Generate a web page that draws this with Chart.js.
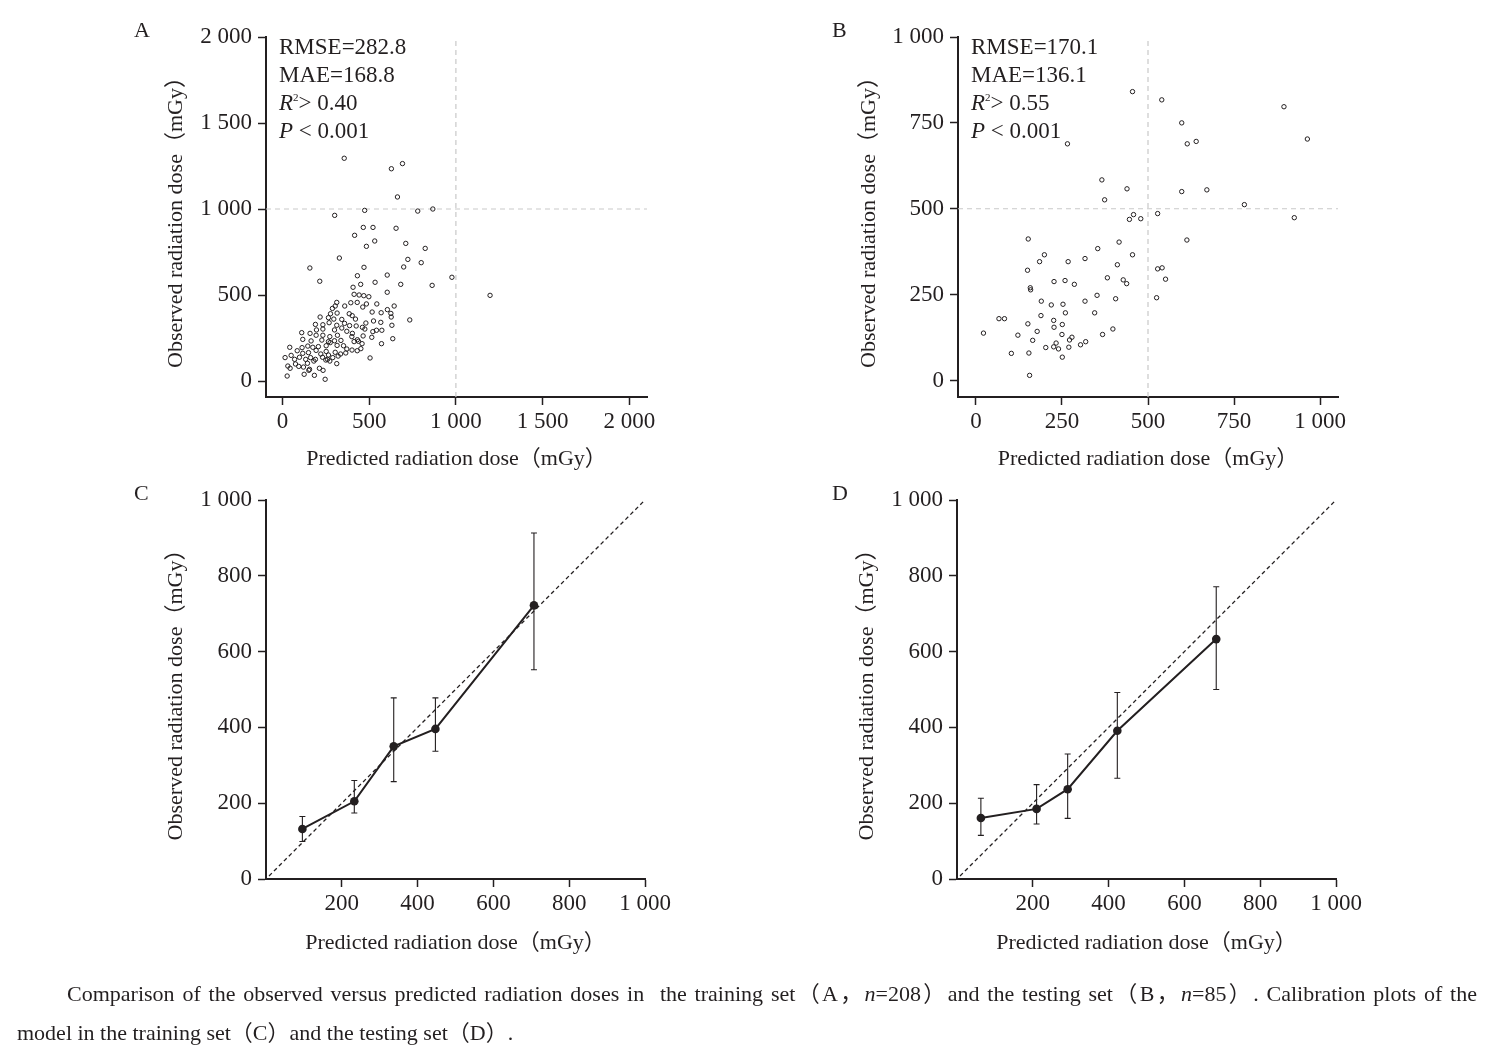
<!DOCTYPE html>
<html>
<head>
<meta charset="utf-8">
<script src="https://cdn.jsdelivr.net/npm/chart.js@4.4.0/dist/chart.umd.min.js"></script>
<style>
  html, body { margin: 0; padding: 0; background: #ffffff; }
  body { width: 1493px; height: 1056px; position: relative; overflow: hidden; }
  canvas { position: absolute; left: 0; top: 0; }
  .txt { position: absolute; font-family: "Liberation Serif", "Times New Roman", "Noto Sans CJK SC", serif; color: #231f20; white-space: nowrap; }
  .stats { font-size: 23px; line-height: 28px; }
  .stats sup { font-size: 11px; vertical-align: 0; position: relative; top: -9px; line-height: 0; }
  .letter { font-size: 22px; line-height: 24px; }
  .cap { font-size: 22px; line-height: 24px; }
</style>
</head>
<body>
<canvas id="cA" width="1493" height="1056"></canvas>
<canvas id="cB" width="1493" height="1056"></canvas>
<canvas id="cC" width="1493" height="1056"></canvas>
<canvas id="cD" width="1493" height="1056"></canvas>

<div class="txt letter" style="left:134px;top:18px;">A</div>
<div class="txt letter" style="left:832px;top:18px;">B</div>
<div class="txt letter" style="left:134px;top:481px;">C</div>
<div class="txt letter" style="left:832px;top:481px;">D</div>

<div class="txt stats" style="left:279px;top:33px;">RMSE=282.8<br>MAE=168.8<br><i>R</i><sup>2</sup>&gt; 0.40<br><i>P</i> &lt; 0.001</div>
<div class="txt stats" style="left:971px;top:33px;">RMSE=170.1<br>MAE=136.1<br><i>R</i><sup>2</sup>&gt; 0.55<br><i>P</i> &lt; 0.001</div>

<div class="txt cap" style="left:67px;top:982px;width:1410px;white-space:normal;text-align:justify;text-align-last:justify;">Comparison of the observed versus predicted radiation doses in&nbsp; the training set（A，<i>n</i>=208）and the testing set（B，<i>n</i>=85）. Calibration plots of the</div>
<div class="txt cap" style="left:17px;top:1021px;">model in the training set（C）and the testing set（D）.</div>

<script>
// ---------------- DATA ----------------
// Panel A: training set (predicted, observed) in mGy
const trainPred = [356,628,692,663,474,780,867,301,466,522,655,416,532,484,711,823,328,723,800,158,470,699,977,863,1197,
  432,604,215,407,451,534,682,604,413,442,469,498,394,431,484,544,644,313,304,288,359,463,605,277,217,265,315,385,402,517,569,625,
  734,296,342,421,481,525,567,627,190,233,269,313,358,387,425,461,196,233,300,342,371,403,475,521,542,573,631,111,159,194,233,273,
  317,400,432,465,515,636,117,165,227,265,300,337,438,413,459,571,42,85,113,146,175,207,252,275,315,352,371,401,431,452,117,150,
  194,221,252,265,304,335,365,15,50,70,98,134,162,190,231,260,290,321,505,31,44,75,94,121,144,156,181,213,234,250,273,313,27,125,
  184,246,152];
const trainObs = [1295,1234,1264,1070,992,988,1000,963,893,893,888,847,814,783,800,771,715,707,688,657,661,663,603,556,498,
  612,616,580,545,562,574,562,516,504,500,496,490,455,457,448,448,436,457,436,422,436,430,415,391,372,368,395,391,380,401,397,393,
  355,360,358,360,337,349,341,372,329,327,339,324,335,322,320,312,297,302,297,308,289,277,302,287,295,295,324,281,277,266,266,258,
  266,258,240,262,254,246,242,233,238,229,234,236,231,229,217,217,196,176,194,203,196,200,205,223,207,205,186,180,176,188,161,165,
  178,157,172,151,167,157,163,136,149,126,138,126,136,126,138,126,136,145,134,87,74,99,85,81,103,68,116,74,62,122,116,101,29,39,
  33,10,62];

// Panel B: testing set (predicted, observed) in mGy
const testPred = [455,540,895,963,598,614,640,266,366,439,598,671,374,780,528,458,446,479,925,613,152,416,354,199,455,185,268,317,
  411,150,528,541,551,227,259,286,382,428,438,158,159,190,219,253,317,352,406,525,189,260,345,67,83,151,226,227,251,22,122,178,
  250,368,398,165,279,272,203,233,226,240,270,304,319,103,154,251,156];
const testObs = [841,817,797,703,750,689,696,689,584,558,550,555,526,512,486,483,469,471,474,409,412,403,384,366,366,346,346,355,
  337,321,325,328,295,288,291,280,299,293,282,270,264,231,220,222,231,248,238,241,189,197,197,180,180,165,175,155,163,138,132,143,
  134,134,150,117,126,118,96,109,98,92,97,104,113,79,80,68,15];

// Reference (dashed) lines
const refA = 1000;
const refB = 500;

// Panel C: calibration, training set
const calTrainPred = [96, 233, 337, 447, 707];
const calTrainObs  = [132, 205, 350, 396, 722];
const calTrainLo   = [99, 174, 257, 337, 552];
const calTrainHi   = [165, 260, 478, 478, 913];

// Panel D: calibration, testing set
const calTestPred = [63, 210, 292, 423, 684];
const calTestObs  = [161, 185, 237, 391, 633];
const calTestLo   = [115, 145, 160, 266, 500];
const calTestHi   = [213, 249, 330, 492, 771];

// Ticks
const ticksA  = [0, 500, 1000, 1500, 2000];
const ticksB  = [0, 250, 500, 750, 1000];
const ticksCx = [200, 400, 600, 800, 1000];
const ticksCy = [0, 200, 400, 600, 800, 1000];

const xTitle = 'Predicted radiation dose（mGy）';
const yTitle = 'Observed radiation dose（mGy）';

// ---------------- HELPERS ----------------
const INK = '#231f20';
const FONT = '"Liberation Serif", "Times New Roman", "Noto Sans CJK SC", serif';

function fmt(v) {
  if (v >= 1000) return Math.floor(v / 1000) + ' ' + String(v % 1000).padStart(3, '0');
  return String(v);
}
function pts(xs, ys) { return xs.map((x, i) => ({ x: x, y: ys[i] })); }

function scaleOpts(min, max, ticks, title, isX, fixedSize, pad) {
  return {
    type: 'linear',
    min: min, max: max,
    afterBuildTicks: s => { s.ticks = ticks.map(v => ({ value: v })); },
    afterFit: s => { if (isX) s.height = fixedSize; else s.width = fixedSize; },
    ticks: {
      autoSkip: false, maxRotation: 0, minRotation: 0,
      padding: pad, color: INK,
      font: { family: FONT, size: 23, lineHeight: 1 },
      callback: v => fmt(v)
    },
    grid: { display: true, drawOnChartArea: false, drawTicks: true, tickLength: 8, tickWidth: 1.5, tickColor: INK },
    border: { display: true, color: INK, width: 2 },
    title: { display: true, text: title, color: INK, padding: 0, font: { family: FONT, size: 22, lineHeight: 1 } }
  };
}

function makeChart(id, area, xs, ys, datasets, plugins) {
  const W = 1493, H = 1056;
  const cfg = {
    type: 'scatter',
    data: { datasets: datasets },
    options: {
      responsive: false, animation: false, devicePixelRatio: 1,
      layout: { padding: {
        left: area.left - area.yw, top: area.top,
        right: W - area.right, bottom: H - area.bottom - area.xh } },
      plugins: { legend: { display: false }, tooltip: { enabled: false } },
      scales: {
        x: scaleOpts(xs.min, xs.max, xs.ticks, xTitle, true, area.xh, 5),
        y: scaleOpts(ys.min, ys.max, ys.ticks, yTitle, false, area.yw, 6)
      }
    },
    plugins: plugins || []
  };
  return new Chart(document.getElementById(id), cfg);
}

function errorBars(lo, hi, xv) {
  return {
    id: 'errbars',
    beforeDatasetsDraw(chart) {
      const ctx = chart.ctx, xs = chart.scales.x, ys = chart.scales.y;
      ctx.save();
      ctx.strokeStyle = INK; ctx.lineWidth = 1.1;
      for (let i = 0; i < xv.length; i++) {
        const px = xs.getPixelForValue(xv[i]);
        const p1 = ys.getPixelForValue(lo[i]);
        const p2 = ys.getPixelForValue(hi[i]);
        ctx.beginPath();
        ctx.moveTo(px, p1); ctx.lineTo(px, p2);
        ctx.moveTo(px - 3, p1); ctx.lineTo(px + 3, p1);
        ctx.moveTo(px - 3, p2); ctx.lineTo(px + 3, p2);
        ctx.stroke();
      }
      ctx.restore();
    }
  };
}

function scatterSet(xs, ys) {
  return { data: pts(xs, ys), showLine: false, pointRadius: 2.2, pointBorderWidth: 1,
    pointBorderColor: INK, pointBackgroundColor: 'rgba(0,0,0,0)', pointStyle: 'circle' };
}
function dashedRef(data) {
  return { data: data, showLine: true, borderColor: '#c9c9c9', borderWidth: 1.2, borderDash: [5, 4],
    pointRadius: 0, fill: false };
}
function calSet(xs, ys) {
  return { data: pts(xs, ys), showLine: true, borderColor: INK, borderWidth: 2, pointRadius: 4.3,
    pointBackgroundColor: INK, pointBorderColor: INK, pointBorderWidth: 0, fill: false, tension: 0 };
}
function diagSet() {
  return { data: [{ x: 8, y: 8 }, { x: 1000, y: 1000 }], showLine: true, borderColor: INK, borderWidth: 1.3,
    borderDash: [4, 3], pointRadius: 0, fill: false };
}

// ---------------- CHARTS ----------------
// A
const axA = { min: -95, max: 2102, ticks: ticksA };
const ayA = { min: -93, max: 2000, ticks: ticksA };
makeChart('cA', { left: 266, right: 647, top: 37, bottom: 397, yw: 101, xh: 73 }, axA, ayA, [
  scatterSet(trainPred, trainObs),
  dashedRef([{ x: axA.min, y: refA }, { x: axA.max, y: refA }]),
  dashedRef([{ x: refA, y: ayA.min }, { x: refA, y: ayA.max }])
]);

// B
const axB = { min: -52, max: 1052, ticks: ticksB };
const ayB = { min: -48, max: 1000, ticks: ticksB };
makeChart('cB', { left: 958, right: 1338, top: 37, bottom: 397, yw: 100, xh: 73 }, axB, ayB, [
  scatterSet(testPred, testObs),
  dashedRef([{ x: axB.min, y: refB }, { x: axB.max, y: refB }]),
  dashedRef([{ x: refB, y: ayB.min }, { x: refB, y: ayB.max }])
]);

// C
makeChart('cC', { left: 266, right: 645, top: 500, bottom: 879, yw: 101, xh: 75 },
  { min: 0, max: 1000, ticks: ticksCx }, { min: 0, max: 1000, ticks: ticksCy },
  [calSet(calTrainPred, calTrainObs), diagSet()],
  [errorBars(calTrainLo, calTrainHi, calTrainPred)]);

// D
makeChart('cD', { left: 957, right: 1336, top: 500, bottom: 879, yw: 101, xh: 75 },
  { min: 0, max: 1000, ticks: ticksCx }, { min: 0, max: 1000, ticks: ticksCy },
  [calSet(calTestPred, calTestObs), diagSet()],
  [errorBars(calTestLo, calTestHi, calTestPred)]);
</script>
</body>
</html>
